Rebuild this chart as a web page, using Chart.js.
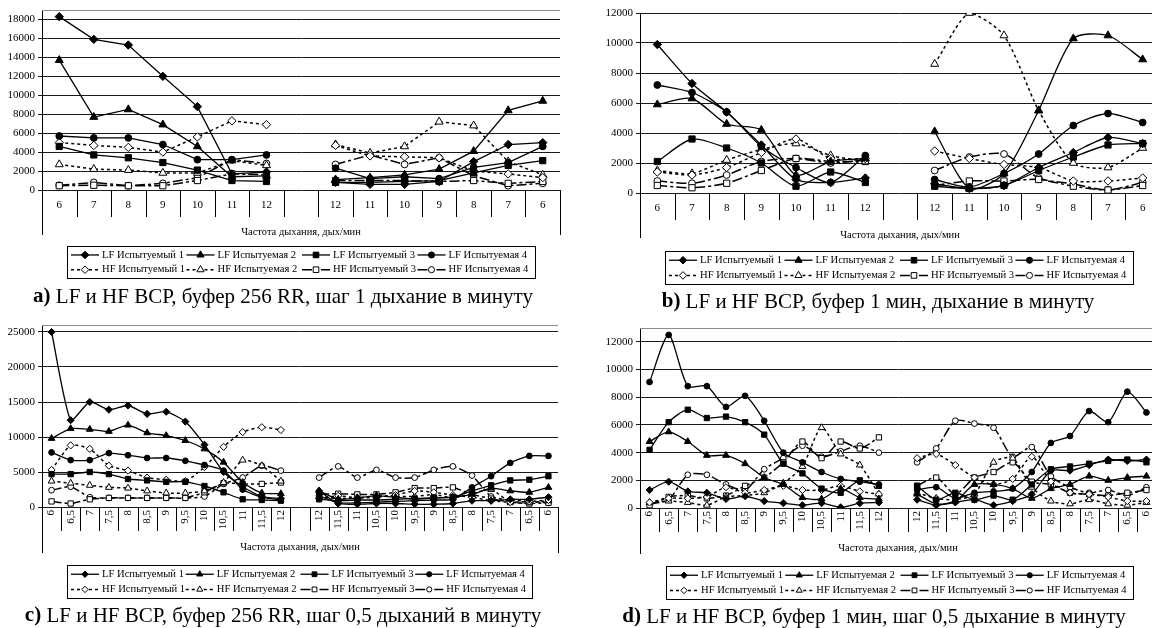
<!DOCTYPE html>
<html>
<head>
<meta charset="utf-8">
<script src="https://cdn.jsdelivr.net/npm/chart.js@4.4.1/dist/chart.umd.min.js"></script>
<style>
  html, body { margin: 0; padding: 0; background: #fff; }
  body { width: 1152px; height: 628px; position: relative; overflow: hidden; }
  canvas { position: absolute; }
</style>
</head>
<body>
<canvas id="chartA" width="576" height="314" style="left:0;top:0"></canvas>
<canvas id="chartB" width="600" height="314" style="left:576px;top:0"></canvas>
<canvas id="chartC" width="576" height="314" style="left:0;top:314px"></canvas>
<canvas id="chartD" width="600" height="314" style="left:576px;top:314px"></canvas>
<script>
// breathing rate categories (the empty one splits the up and down runs)
const wholeSteps = ["6", "7", "8", "9", "10", "11", "12", "", "12", "11", "10", "9", "8", "7", "6"];
const halfSteps = ["6", "6,5", "7", "7,5", "8", "8,5", "9", "9,5", "10", "10,5", "11", "11,5", "12", "",
  "12", "11,5", "11", "10,5", "10", "9,5", "9", "8,5", "8", "7,5", "7", "6,5", "6"];

const lfNames = ["LF Испытуемый 1", "LF Испытуемая 2", "LF Испытуемый 3", "LF Испытуемая 4"];
const hfNames = ["HF Испытуемый 1", "HF Испытуемая 2", "HF Испытуемый 3", "HF Испытуемая 4"];
const axisTitle = "Частота дыхания, дых/мин";

// y tick labels per panel
const ticksA = [0, 2000, 4000, 6000, 8000, 10000, 12000, 14000, 16000, 18000];
const ticksB = [0, 2000, 4000, 6000, 8000, 10000, 12000];
const ticksC = [0, 5000, 10000, 15000, 20000, 25000];
const ticksD = [0, 2000, 4000, 6000, 8000, 10000, 12000];

// a) buffer 256 RR, step 1
const aLF1 = [18300, 15900, 15300, 12000, 8800, 1700, 1900, null, 800, 600, 600, 900, 3000, 4800, 5000];
const aLF2 = [13700, 7700, 8500, 6900, 4600, 1400, 1500, null, 1100, 1300, 1600, 2200, 4100, 8400, 9400];
const aLF3 = [4600, 3700, 3400, 2900, 2100, 1000, 900, null, 800, 800, 900, 1000, 1800, 2600, 3100];
const aLF4 = [5700, 5500, 5500, 4800, 3200, 3200, 3700, null, 2300, 1200, 1400, 1200, 2400, 2900, 4600];
const aHF1 = [5000, 4700, 4500, 4000, 5600, 7300, 6900, null, 4700, 3600, 3500, 3400, 2000, 1700, 1300];
const aHF2 = [2700, 2200, 2100, 1800, 1800, 3100, 2600, null, 4800, 3900, 4600, 7200, 6800, 3000, 1600];
const aHF3 = [450, 500, 450, 450, 1000, 1700, 1600, null, 1000, 1000, 1000, 900, 1000, 700, 900];
const aHF4 = [500, 800, 450, 700, 1300, 3200, 2800, null, 2700, 3700, 2700, 3400, 1500, 450, 700];

// b) buffer 1 min
const bLF1 = [9900, 7300, 5400, 3200, 900, 700, 1000, null, 600, 300, 500, 1700, 2700, 3700, 3300];
const bLF2 = [5900, 6300, 4600, 4200, 1200, 2100, 2300, null, 4100, 300, 1300, 5500, 10300, 10500, 8900];
const bLF3 = [2100, 3600, 3000, 2000, 450, 1400, 700, null, 450, 300, 500, 1500, 2400, 3200, 3300];
const bLF4 = [7200, 6700, 5400, 3100, 1700, 700, 2500, null, 900, 400, 1300, 2600, 4500, 5300, 4700];
const bHF1 = [1400, 1200, 1700, 2700, 3600, 2300, 2300, null, 2800, 2300, 1900, 1700, 800, 800, 1000];
const bHF2 = [1500, 1300, 2200, 2900, 3300, 2500, 2100, null, 8600, 12000, 10500, 5500, 2000, 1700, 3000];
const bHF3 = [500, 350, 650, 1500, 2300, 2100, 2100, null, 500, 800, 800, 900, 450, 200, 500];
const bHF4 = [800, 650, 1200, 2100, 2300, 2000, 2200, null, 1500, 2400, 2600, 1000, 600, 200, 700];

// c) buffer 256 RR, step 0.5
const cLF1 = [25000, 12400, 15000, 13900, 14500, 13300, 13600, 12200, 8900, 5000, 2900, 1500, 1200, null,
  2300, 500, 400, 500, 500, 400, 400, 500, 900, 900, 1100, 1100, 1400];
const cLF2 = [9800, 11200, 11100, 10800, 11700, 10600, 10200, 9500, 8300, 6400, 3500, 2000, 1900, null,
  2300, 1100, 1300, 1600, 1400, 1100, 1300, 1400, 1800, 2700, 2300, 2100, 2800];
const cLF3 = [4700, 4700, 5000, 4700, 4000, 3800, 3600, 3600, 3000, 2100, 1100, 1000, 900, null,
  1100, 900, 1000, 1000, 1100, 1200, 1300, 1400, 2300, 3100, 3800, 3900, 4400];
const cLF4 = [7800, 6700, 6700, 7700, 7400, 7000, 7000, 6600, 6000, 5200, 2500, 1400, 1000, null,
  1600, 600, 600, 700, 800, 900, 1000, 1100, 2800, 4400, 6300, 7300, 7300];
const cHF1 = [5300, 8800, 8300, 5900, 5200, 4200, 3900, 3700, 5700, 8600, 10700, 11400, 11000, null,
  1200, 1600, 1300, 1400, 1700, 2300, 2100, 1700, 1400, 900, 700, 800, 1000];
const cHF2 = [3700, 3400, 3100, 2800, 2700, 2300, 2000, 2000, 2300, 3500, 6700, 5900, 3700, null,
  1500, 1200, 1300, 1600, 1500, 1500, 1800, 1300, 1900, 2500, 700, 600, 900];
const cHF3 = [800, 500, 1100, 1300, 1300, 1300, 1300, 1300, 2100, 3400, 3300, 3300, 3500, null,
  1800, 1900, 1800, 1800, 2100, 2700, 2700, 2800, 1800, 1200, 700, 500, 600];
const cHF4 = [2400, 2900, 1400, 1300, 1300, 1300, 1300, 1300, 1500, 3300, 4200, 5900, 5200, null,
  4200, 5800, 4200, 5300, 4200, 4200, 5300, 5800, 4500, 1500, 1000, 800, 600];

// d) buffer 1 min, step 0.5
const dLF1 = [1300, 1900, 1200, 1100, 650, 850, 500, 350, 200, 350, 50, 350, 400, null,
  600, 200, 400, 600, 200, 500, 1000, 2700, 2700, 3100, 3500, 3400, 3500];
const dLF2 = [4800, 5500, 4800, 3800, 3800, 3200, 2200, 1700, 750, 650, 1400, 750, 650, null,
  1000, 300, 500, 1700, 1700, 1400, 700, 1400, 1700, 2300, 2000, 2200, 2300];
const dLF3 = [4200, 6200, 7100, 6500, 6600, 6200, 5300, 3200, 2500, 1400, 1100, 2000, 1600, null,
  1600, 600, 1100, 600, 900, 600, 1700, 2800, 3000, 3200, 3400, 3500, 3300];
const dLF4 = [9100, 12500, 8800, 8800, 7300, 8100, 6300, 4000, 3300, 2600, 2100, 1900, 1700, null,
  1300, 1500, 700, 1100, 1200, 1400, 2600, 4700, 5200, 7000, 6200, 8400, 6900];
const dHF1 = [400, 700, 700, 800, 1500, 1100, 1300, 1600, 1300, 1300, 1600, 1200, 1000, null,
  3600, 3900, 3100, 2200, 1700, 2100, 3700, 1900, 1100, 1000, 800, 500, 500];
const dHF2 = [400, 500, 400, 200, 800, 900, 1100, 1800, 3000, 5800, 3900, 3100, 1000, null,
  1100, 700, 600, 1000, 3300, 3600, 1500, 500, 300, 600, 300, 200, 400];
const dHF3 = [200, 800, 900, 700, 900, 1600, 2200, 3300, 4800, 3600, 4800, 4300, 5100, null,
  1600, 2200, 1000, 2200, 2600, 3300, 1900, 1700, 1100, 1000, 900, 1100, 1300];
const dHF4 = [300, 600, 2400, 2400, 1700, 1300, 2800, 3600, 4500, 3700, 4100, 4500, 4000, null,
  3300, 4300, 6300, 6100, 5800, 3700, 4400, 2300, 1500, 1100, 1300, 900, 1500];

Chart.defaults.font.family = "'Liberation Serif', 'Times New Roman', serif";
Chart.defaults.color = "#000";

const markerStyles = ["rectRot", "triangle", "rect", "circle"];
const markerSizes = [4.2, 4.6, 4.4, 3.4];
const hfDashes = [[3, 3], [3, 3], [10, 3, 3, 3], [10, 3, 3, 3]];

function buildDatasets(lf, hf, scale, tension) {
  const sets = [];
  lf.forEach((data, i) => sets.push({
    label: lfNames[i], data,
    borderColor: "#000", borderWidth: 1.3, borderDash: [],
    pointStyle: markerStyles[i], pointRadius: markerSizes[i] * scale,
    pointBackgroundColor: "#000", pointBorderColor: "#000", pointBorderWidth: 1,
    tension, spanGaps: false, fill: false
  }));
  hf.forEach((data, i) => sets.push({
    label: hfNames[i], data,
    borderColor: "#000", borderWidth: 1.5, borderDash: hfDashes[i],
    pointStyle: markerStyles[i], pointRadius: markerSizes[i] * scale,
    pointBackgroundColor: "#fff", pointBorderColor: "#000", pointBorderWidth: 1,
    tension, spanGaps: false, fill: false
  }));
  return sets;
}

// draws the category band, axis title, legend box and caption
const panelDecor = {
  id: "panelDecor",
  afterDraw(chart, args, opts) {
    const ctx = chart.ctx;
    const area = chart.chartArea;
    const labels = chart.data.labels;
    const n = labels.length;
    const cw = (area.right - area.left) / n;
    const y0 = area.bottom;
    ctx.save();

    if (opts.topBorder) {
      ctx.strokeStyle = "#8c8c8c";
      ctx.lineWidth = 1;
      ctx.beginPath();
      ctx.moveTo(area.left, Math.round(area.top) + 0.5);
      ctx.lineTo(area.right, Math.round(area.top) + 0.5);
      ctx.stroke();
    }

    ctx.strokeStyle = "#000";
    ctx.lineWidth = 1;
    ctx.beginPath();
    for (let i = 0; i <= n; i++) {
      const x = Math.round(area.left + i * cw) + 0.5;
      const len = (i === 0 || i === n) ? opts.frameDepth : opts.bandDepth;
      ctx.moveTo(x, y0);
      ctx.lineTo(x, y0 + len);
    }
    ctx.stroke();

    ctx.fillStyle = "#000";
    ctx.font = "11px 'Liberation Serif'";
    labels.forEach((lab, i) => {
      if (!lab) return;
      const x = area.left + (i + 0.5) * cw;
      if (opts.rotate) {
        ctx.save();
        ctx.translate(x, y0 + 3);
        ctx.rotate(-Math.PI / 2);
        ctx.textAlign = "right";
        ctx.textBaseline = "middle";
        ctx.fillText(lab, 0, 0);
        ctx.restore();
      } else {
        ctx.textAlign = "center";
        ctx.textBaseline = "middle";
        ctx.fillText(lab, x, y0 + 15);
      }
    });

    ctx.font = "10.5px 'Liberation Serif'";
    ctx.textAlign = "center";
    ctx.textBaseline = "middle";
    ctx.fillText(axisTitle, (area.left + area.right) / 2, y0 + opts.titleOffset);

    // legend
    const [lx0, ly0, lx1, ly1] = opts.legendBox;
    ctx.strokeStyle = "#000";
    ctx.lineWidth = 1;
    ctx.strokeRect(lx0 + 0.5, ly0 + 0.5, lx1 - lx0, ly1 - ly0);
    const colW = (lx1 - lx0 - 6) / 4;
    const rows = [ly0 + (ly1 - ly0) * 0.28, ly0 + (ly1 - ly0) * 0.74];
    chart.data.datasets.forEach((ds, k) => {
      const row = k < 4 ? 0 : 1;
      const j = k % 4;
      const ix = lx0 + 4 + j * colW;
      const iy = rows[row];
      ctx.strokeStyle = "#000";
      ctx.lineWidth = ds.borderWidth;
      ctx.setLineDash(ds.borderDash);
      ctx.beginPath();
      ctx.moveTo(ix, iy);
      ctx.lineTo(ix + 28, iy);
      ctx.stroke();
      ctx.setLineDash([]);
      ctx.lineWidth = 1;
      ctx.fillStyle = ds.pointBackgroundColor;
      Chart.helpers.drawPoint(ctx, {
        pointStyle: ds.pointStyle, radius: ds.pointRadius * 0.9, borderWidth: 1, rotation: 0
      }, ix + 14, iy);
      ctx.fillStyle = "#000";
      ctx.font = "10.6px 'Liberation Serif'";
      ctx.textAlign = "left";
      ctx.textBaseline = "middle";
      ctx.fillText(ds.label, ix + 31, iy);
    });

    // caption
    const cap = opts.caption;
    ctx.textBaseline = "middle";
    ctx.textAlign = "left";
    ctx.font = "bold 21px 'Liberation Serif'";
    const tagW = ctx.measureText(cap.tag).width;
    ctx.font = "21px 'Liberation Serif'";
    const textW = ctx.measureText(cap.text).width;
    const sx = cap.cx - (tagW + textW) / 2;
    ctx.font = "bold 21px 'Liberation Serif'";
    ctx.fillText(cap.tag, sx, cap.cy);
    ctx.font = "21px 'Liberation Serif'";
    ctx.fillText(cap.text, sx + tagW, cap.cy);

    ctx.restore();
  }
};

function makePanel(id, cfg) {
  new Chart(document.getElementById(id), {
    type: "line",
    data: { labels: cfg.labels, datasets: buildDatasets(cfg.lf, cfg.hf, cfg.markerScale, cfg.tension) },
    options: {
      responsive: false,
      animation: false,
      devicePixelRatio: 1,
      layout: { padding: cfg.padding },
      scales: {
        x: { display: false, offset: true },
        y: {
          min: 0,
          max: cfg.yMax,
          afterFit: (s) => { s.width = 40; },
          afterBuildTicks: (s) => { s.ticks = cfg.ticks.map((v) => ({ value: v })); },
          ticks: { padding: 3, font: { size: 11 }, callback: (v) => String(v) },
          grid: { color: "#1a1a1a", lineWidth: 1, tickLength: 4 },
          border: { color: "#000", width: 1 }
        }
      },
      plugins: {
        legend: { display: false },
        tooltip: { enabled: false },
        panelDecor: cfg.decor
      }
    },
    plugins: [panelDecor]
  });
}

makePanel("chartA", {
  labels: wholeSteps, ticks: ticksA,
  lf: [aLF1, aLF2, aLF3, aLF4], hf: [aHF1, aHF2, aHF3, aHF4],
  markerScale: 1, tension: 0,
  yMax: 19000,
  padding: { left: 2, top: 10, right: 16, bottom: 124 },
  decor: {
    topBorder: true, rotate: false, bandDepth: 27, frameDepth: 45, titleOffset: 42,
    legendBox: [67, 246, 535, 278],
    caption: { tag: "a)", text: " LF и HF ВСР, буфер 256 RR, шаг 1 дыхание в минуту", cx: 283, cy: 297 }
  }
});

makePanel("chartB", {
  labels: wholeSteps, ticks: ticksB,
  lf: [bLF1, bLF2, bLF3, bLF4], hf: [bHF1, bHF2, bHF3, bHF4],
  markerScale: 1, tension: 0.25,
  yMax: 12000,
  padding: { left: 24, top: 13, right: 16, bottom: 121 },
  decor: {
    topBorder: false, rotate: false, bandDepth: 27, frameDepth: 45, titleOffset: 42,
    legendBox: [89, 251, 557, 284],
    caption: { tag: "b)", text: " LF и HF ВСР, буфер 1 мин, дыхание в минуту", cx: 302, cy: 302 }
  }
});

makePanel("chartC", {
  labels: halfSteps, ticks: ticksC,
  lf: [cLF1, cLF2, cLF3, cLF4], hf: [cHF1, cHF2, cHF3, cHF4],
  markerScale: 0.85, tension: 0.2,
  yMax: 26000,
  padding: { left: 2, top: 11, right: 18, bottom: 121 },
  decor: {
    topBorder: true, rotate: true, bandDepth: 24, frameDepth: 46, titleOffset: 40,
    legendBox: [67, 251, 532, 284],
    caption: { tag: "c)", text: " LF и HF ВСР, буфер 256 RR, шаг 0,5 дыханий в минуту", cx: 283, cy: 302 }
  }
});

makePanel("chartD", {
  labels: halfSteps, ticks: ticksD,
  lf: [dLF1, dLF2, dLF3, dLF4], hf: [dHF1, dHF2, dHF3, dHF4],
  markerScale: 0.85, tension: 0.25,
  yMax: 13000,
  padding: { left: 24, top: 14, right: 20, bottom: 120 },
  decor: {
    topBorder: true, rotate: true, bandDepth: 24, frameDepth: 46, titleOffset: 40,
    legendBox: [90, 252, 557, 285],
    caption: { tag: "d)", text: " LF и HF ВСР, буфер 1 мин, шаг 0,5 дыхание в минуту", cx: 298, cy: 303 }
  }
});
</script>
</body>
</html>
